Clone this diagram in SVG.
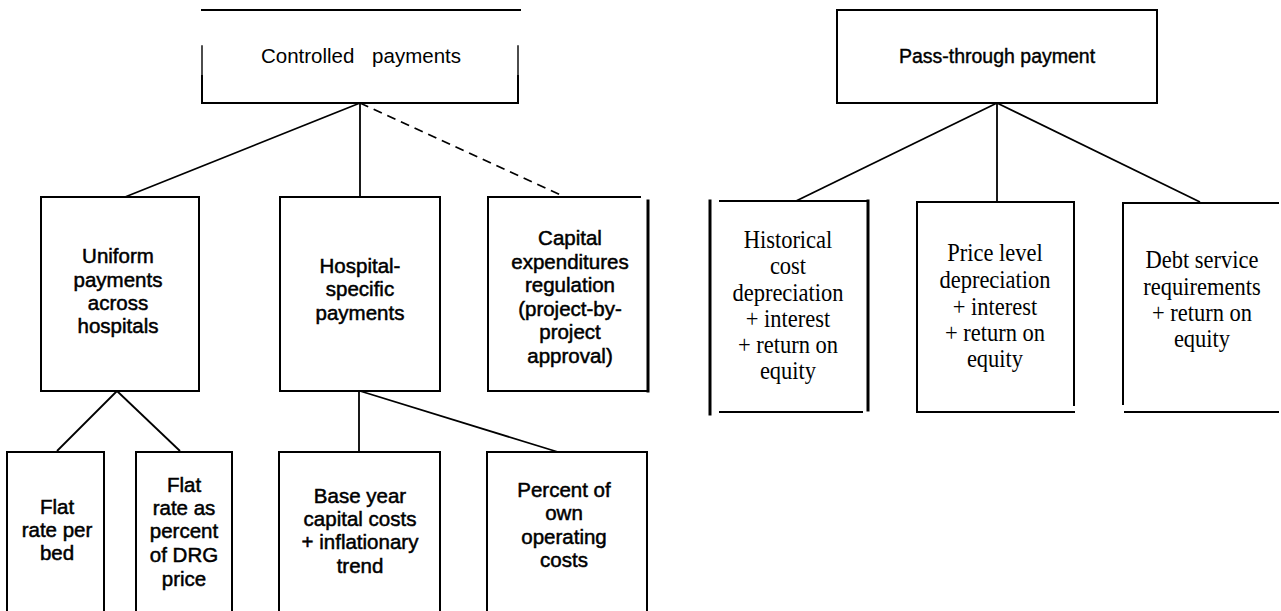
<svg xmlns="http://www.w3.org/2000/svg" width="1281" height="611" viewBox="0 0 1281 611">
<style>
  .bx { fill: none; stroke: #000; stroke-width: 2; stroke-linecap: square; }
  .thk { stroke-width: 3; }
  .cn { fill: none; stroke: #000; stroke-width: 1.8; }
  .dash { stroke-dasharray: 9 6; }
  .sans { font-family: "Liberation Sans", Arial, Helvetica, sans-serif; fill: #000; text-anchor: middle; }
  .med { font-size: 20.5px; stroke: #000; stroke-width: 0.5; }
  .serif { font-family: "Liberation Serif", "Times New Roman", serif; font-size: 25px; fill: #000; text-anchor: middle; }
</style>
<rect width="1281" height="611" fill="#fff"/>

<g id="connectors">
  <line class="cn" x1="360" y1="103" x2="125" y2="197"/>
  <line class="cn" x1="360" y1="103" x2="360" y2="197"/>
  <line class="cn dash" x1="360" y1="103" x2="565" y2="197"/>
  <line class="cn" x1="117" y1="391" x2="57" y2="451"/>
  <line class="cn" x1="117" y1="391" x2="180" y2="451"/>
  <line class="cn" x1="359" y1="391" x2="359" y2="452"/>
  <line class="cn" x1="360" y1="391" x2="558" y2="452"/>
  <line class="cn" x1="997" y1="103" x2="796" y2="201"/>
  <line class="cn" x1="997" y1="103" x2="997" y2="202"/>
  <line class="cn" x1="997" y1="103" x2="1200" y2="202"/>
</g>

<g id="controlled">
  <line class="bx" x1="202" y1="10" x2="520" y2="10"/>
  <line class="bx" x1="202" y1="46" x2="202" y2="76" style="stroke-width:1.4"/>
  <line class="bx" x1="202" y1="76" x2="202" y2="103"/>
  <line class="bx" x1="518" y1="46" x2="518" y2="76" style="stroke-width:1.4"/>
  <line class="bx" x1="518" y1="76" x2="518" y2="103"/>
  <line class="bx" x1="202" y1="103" x2="518" y2="103"/>
  <text class="sans" x="361" y="63" font-size="20.5" word-spacing="12">Controlled payments</text>
</g>

<g id="passthrough">
  <rect class="bx" x="837" y="10" width="320" height="93"/>
  <text class="sans" x="997" y="63" font-size="19.5" stroke="#000" stroke-width="0.4">Pass-through payment</text>
</g>

<g id="uniform">
  <rect class="bx" x="41" y="197" width="158" height="194"/>
  <text class="sans med" x="118" y="263">Uniform</text>
  <text class="sans med" x="118" y="287">payments</text>
  <text class="sans med" x="118" y="310">across</text>
  <text class="sans med" x="118" y="333">hospitals</text>
</g>

<g id="hospital">
  <rect class="bx" x="280" y="197" width="160" height="194"/>
  <text class="sans med" x="360" y="273">Hospital-</text>
  <text class="sans med" x="360" y="296">specific</text>
  <text class="sans med" x="360" y="320">payments</text>
</g>

<g id="capital">
  <line class="bx" x1="488" y1="197" x2="640" y2="197"/>
  <line class="bx" x1="488" y1="197" x2="488" y2="391"/>
  <line class="bx thk" x1="648" y1="201" x2="648" y2="391"/>
  <line class="bx" x1="488" y1="391" x2="647" y2="391"/>
  <text class="sans med" x="570" y="245">Capital</text>
  <text class="sans med" x="570" y="269">expenditures</text>
  <text class="sans med" x="570" y="292">regulation</text>
  <text class="sans med" x="570" y="316">(project-by-</text>
  <text class="sans med" x="570" y="339">project</text>
  <text class="sans med" x="570" y="363">approval)</text>
</g>

<g id="historical">
  <line class="bx thk" x1="710" y1="201" x2="710" y2="414"/>
  <line class="bx" x1="720" y1="201" x2="868" y2="201"/>
  <line class="bx thk" x1="868" y1="201" x2="868" y2="410"/>
  <line class="bx" x1="720" y1="412" x2="862" y2="412"/>
  <g transform="matrix(0.9 0 0 1 78.8 0)">
    <text class="serif" x="788" y="248">Historical</text>
    <text class="serif" x="788" y="274">cost</text>
    <text class="serif" x="788" y="301">depreciation</text>
    <text class="serif" x="788" y="327">+  interest</text>
    <text class="serif" x="788" y="353">+ return on</text>
    <text class="serif" x="788" y="379">equity</text>
  </g>
</g>

<g id="pricelevel">
  <line class="bx" x1="917" y1="202" x2="1074" y2="202"/>
  <line class="bx" x1="917" y1="202" x2="917" y2="412"/>
  <line class="bx" x1="1074" y1="202" x2="1074" y2="405"/>
  <line class="bx" x1="917" y1="412" x2="1074" y2="412"/>
  <g transform="matrix(0.9 0 0 1 99.5 0)">
    <text class="serif" x="995" y="261">Price  level</text>
    <text class="serif" x="995" y="288">depreciation</text>
    <text class="serif" x="995" y="315">+  interest</text>
    <text class="serif" x="995" y="341">+ return on</text>
    <text class="serif" x="995" y="367">equity</text>
  </g>
</g>

<g id="debt">
  <line class="bx" x1="1123" y1="203" x2="1278" y2="203"/>
  <line class="bx" x1="1123" y1="203" x2="1123" y2="404"/>
  <line class="bx" x1="1125" y1="412" x2="1278" y2="412"/>
  <g transform="matrix(0.9 0 0 1 120.2 0)">
    <text class="serif" x="1202" y="268">Debt  service</text>
    <text class="serif" x="1202" y="295">requirements</text>
    <text class="serif" x="1202" y="321">+ return on</text>
    <text class="serif" x="1202" y="347">equity</text>
  </g>
</g>

<g id="flatbed">
  <polyline class="bx" points="7,611 7,452 104,452 104,611"/>
  <text class="sans med" x="57" y="514">Flat</text>
  <text class="sans med" x="57" y="537">rate per</text>
  <text class="sans med" x="57" y="560">bed</text>
</g>

<g id="flatdrg">
  <polyline class="bx" points="136,611 136,452 232,452 232,611"/>
  <text class="sans med" x="184" y="492">Flat</text>
  <text class="sans med" x="184" y="515">rate as</text>
  <text class="sans med" x="184" y="538">percent</text>
  <text class="sans med" x="184" y="562">of DRG</text>
  <text class="sans med" x="184" y="586">price</text>
</g>

<g id="baseyear">
  <polyline class="bx" points="279,611 279,452 440,452 440,611"/>
  <text class="sans med" x="360" y="503">Base year</text>
  <text class="sans med" x="360" y="526">capital costs</text>
  <text class="sans med" x="360" y="549">+ inflationary</text>
  <text class="sans med" x="360" y="573">trend</text>
</g>

<g id="percent">
  <polyline class="bx" points="487,611 487,452 647,452 647,611"/>
  <text class="sans med" x="564" y="497">Percent of</text>
  <text class="sans med" x="564" y="520">own</text>
  <text class="sans med" x="564" y="544">operating</text>
  <text class="sans med" x="564" y="567">costs</text>
</g>
</svg>
